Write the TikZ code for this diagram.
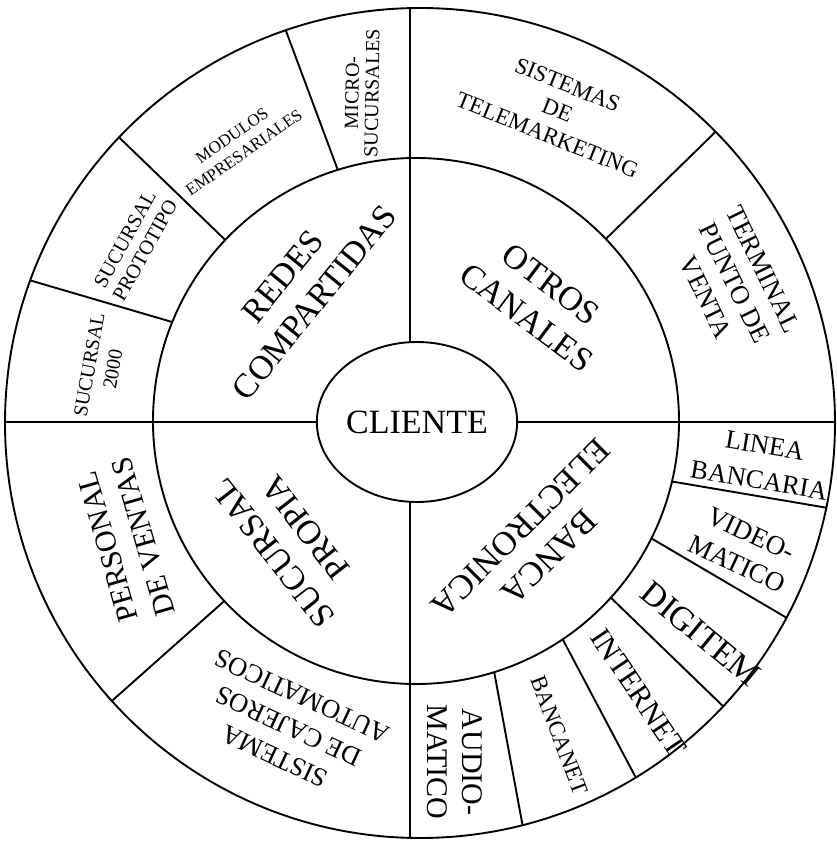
\documentclass[tikz,border=0pt]{standalone}
\usepackage{fontspec}
\setmainfont{Liberation Serif}
\usetikzlibrary{shapes.geometric}

\tikzset{
  lab/.style 2 args={font=\fontsize{#1}{#2}\selectfont, align=center, inner sep=0pt},
  ring/.style={line width=1.9pt},
  cut/.style={line width=1.9pt}
}

\begin{document}
\begin{tikzpicture}[x=1pt,y=1pt]
  \fill[white] (-416,-420) rectangle (421,421);
  \useasboundingbox (-416,-420) rectangle (421,421);
  \coordinate (c) at (0,0);
  \coordinate (oc) at (4,-2);
  \draw[ring] (c) circle (263);
  \draw[ring] (oc) circle (415);
  \begin{scope}
    \clip (oc) circle (415);
    \draw[cut] (-6,0) -- (-6,430);
    \draw[cut] (-6,0) -- (-6,-430);
    \draw[cut] (0,-1) -- (-430,-1);
    \draw[cut] (0,-1) -- (430,-1);
    \foreach \a/\b in {157.9/160.1, 136.5/136.3, 107.3/108.5, 43.8/44,
                       -13.3/-11.9, -26.5/-28, -42.2/-42.9, -56.1/-58.4,
                       -72.7/-75.3, 223.2/222.6}
      \draw[cut] (\a:263) -- (\b:425);
  \end{scope}
  \node[draw, ring, ellipse, fill=white, minimum width=176, minimum height=160,
        inner sep=0pt, font=\fontsize{34}{41}\selectfont] (cliente) at (1,-1) {CLIENTE};

  \node[lab={34}{41}, rotate=51] (redes) at (-117.5,131.5) {REDES\\COMPARTIDAS};
  \node[lab={34}{41}, rotate=-37] (otros) at (122.75,120) {OTROS\\CANALES};
  \node[lab={34}{41}, rotate=128] (propia) at (-126.75,-119.25) {SUCURSAL\\PROPIA};
  \node[lab={34}{41}, rotate=225] (banca) at (119,-121.5) {BANCA\\ELECTRONICA};

  \node[lab={20}{24}, rotate=80] (suc2000) at (-315,54) {SUCURSAL\\2000};
  \node[lab={20.5}{23}, rotate=61] (proto) at (-281,176) {SUCURSAL\\PROTOTIPO};
  \node[lab={17}{21}, rotate=35] (modulos) at (-178,277) {MODULOS\\EMPRESARIALES};
  \node[lab={20}{20}, rotate=89] (micro) at (-54,328) {MICRO-\\SUCURSALES};
  \node[lab={23}{27}, rotate=-22] (tele) at (141.5,311) {SISTEMAS\\DE\\TELEMARKETING};
  \node[lab={26.5}{32}, rotate=-64] (terminal) at (318.5,137.5) {TERMINAL\\PUNTO DE\\VENTA};
  \node[lab={26.5}{35}, rotate=-9.5] (linea) at (346,-42) {LINEA\\BANCARIA};
  \node[lab={27}{33}, rotate=-25] (video) at (328,-128) {VIDEO-\\MATICO};
  \node[lab={34}{41}, rotate=-39.5] (digitem) at (284.5,-212.5) {DIGITEM};
  \node[lab={30}{36}, rotate=-56] (internet) at (222.5,-271.5) {INTERNET};
  \node[lab={23}{28}, rotate=-69] (bancanet) at (143.5,-314) {BANCANET};
  \node[lab={30}{35}, rotate=-90] (audio) at (38.5,-341) {AUDIO-\\MATICO};
  \node[lab={30}{37}, rotate=106] (personal) at (-290.5,-120.5) {PERSONAL\\DE VENTAS};
  \node[lab={26.5}{33}, rotate=155] (cajeros) at (-127.5,-305.5) {SISTEMA\\DE CAJEROS\\AUTOMATICOS};
\end{tikzpicture}
\end{document}
